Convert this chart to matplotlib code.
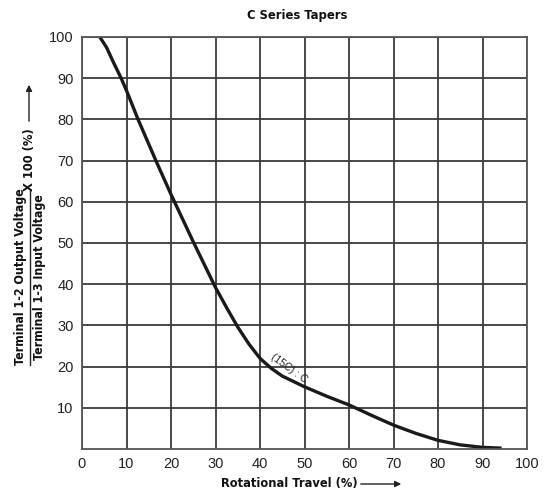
import matplotlib
matplotlib.use("Agg")
import matplotlib.pyplot as plt
from matplotlib import font_manager as fm
from matplotlib.patches import FancyArrowPatch
from matplotlib.lines import Line2D

# Data
travel = [4, 5.5, 7, 8.8, 10, 12.6, 15, 16.6, 20, 25, 30, 32.5, 35, 37.5, 40, 42.5, 45, 50,
          55, 60, 65, 70, 75, 80, 85, 90, 94.3]
output = [100, 97.5, 94, 90, 87, 80, 74, 70, 61.8, 50.3, 39.2, 34.3, 29.6, 25.5, 22.0, 19.6, 17.7, 15.1,
          12.8, 10.7, 8.2, 5.8, 3.8, 2.1, 1.0, 0.4, 0.2]
x_ticks = [0, 10, 20, 30, 40, 50, 60, 70, 80, 90, 100]
y_ticks = [10, 20, 30, 40, 50, 60, 70, 80, 90, 100]

# pick a condensed bold face if one is installed
cond = None
for f in fm.fontManager.ttflist:
    name = f.name.lower()
    w = f.weight if isinstance(f.weight, int) else (700 if 'bold' in str(f.weight) else 400)
    if w >= 600 and ('narrow' in name or 'condensed' in name or f.stretch in ('condensed', 'semi-condensed')) \
            and 'italic' not in f.style and 'oblique' not in f.style:
        cond = f.fname
        break
if cond:
    bold = fm.FontProperties(fname=cond)
    s_title, s_x, s_y, s_pct = 9.3, 9.2, 8.9, 9.3
else:
    bold = fm.FontProperties(family=['Liberation Sans', 'DejaVu Sans'], weight='bold')
    s_title, s_x, s_y, s_pct = 8.5, 8.3, 8.0, 8.5

regular = ['Liberation Sans', 'DejaVu Sans']

fig = plt.figure(figsize=(5.52, 4.91), dpi=100)
ax = fig.add_axes([82/552, 1 - 449/491, 445/552, 412/491])

ax.plot(travel, output, color='#1a1a1a', lw=2.4, solid_capstyle='butt')
ax.set_xlim(0, 100)
ax.set_ylim(0, 100)
ax.set_xticks(x_ticks)
ax.set_yticks(y_ticks)
ax.grid(True, color='#3a3a3a', lw=1.3)
ax.set_axisbelow(True)
for s in ax.spines.values():
    s.set_color('#555555')
    s.set_linewidth(1.3)
ax.tick_params(length=0, pad=6, labelsize=10.5, colors='#222222')
for lab in ax.get_xticklabels() + ax.get_yticklabels():
    lab.set_family(regular)

ax.text(46.5, 19.6, '(15C) : C', rotation=-36, ha='center', va='center',
        fontsize=7.5, family=regular, color='#222222', rotation_mode='anchor')

def ftext(x, y, s, size, **kw):
    p = bold.copy()
    p.set_size(size)
    return fig.text(x/552, 1 - y/491, s, ha='center', va='center', fontproperties=p,
                    color='#111111', **kw)

ftext(297, 16, 'C Series Tapers', s_title)

# x label with arrow
ftext(289, 483, 'Rotational Travel (%)', s_x)
fig.add_artist(FancyArrowPatch(
    (358/552, 1 - 484/491), (404/552, 1 - 484/491), transform=fig.transFigure,
    arrowstyle='-|>', mutation_scale=9, color='#222222', lw=1.0))

# y label as fraction
ftext(20.5, 277, 'Terminal 1-2 Output Voltage', s_y, rotation=90)
ftext(39.5, 277, 'Terminal 1-3 Input Voltage', s_y, rotation=90)
fig.add_artist(Line2D([29.5/552, 29.5/552], [1 - 365/491, 1 - 190/491],
                      transform=fig.transFigure, color='#222222', lw=1.0))
ftext(29, 160, 'X 100 (%)', s_pct, rotation=90)
fig.add_artist(FancyArrowPatch(
    (29/552, 1 - 124/491), (29/552, 1 - 82/491), transform=fig.transFigure,
    arrowstyle='-|>', mutation_scale=9, color='#222222', lw=1.0))

fig.savefig('out.png', dpi=100)
